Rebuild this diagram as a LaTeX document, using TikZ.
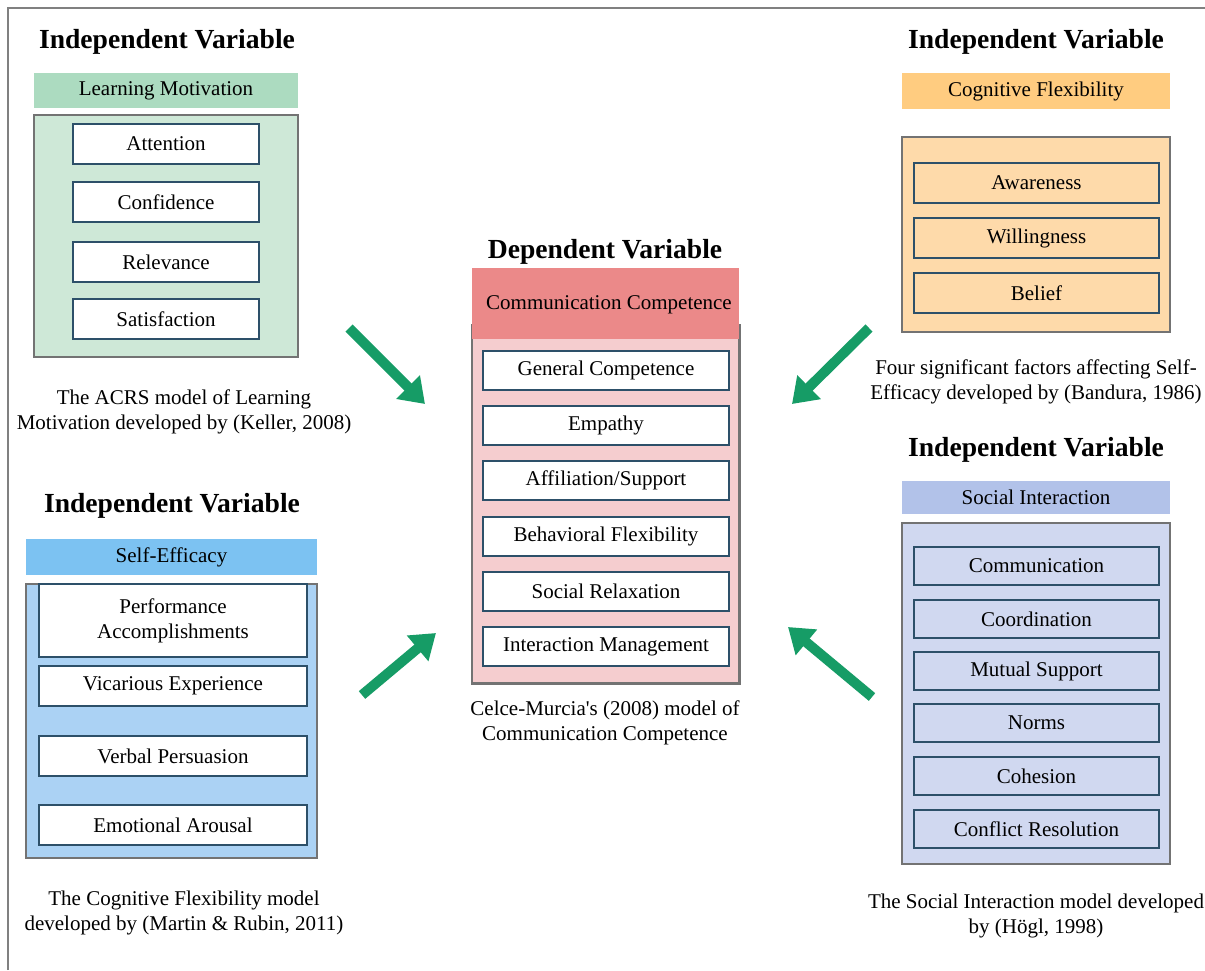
\documentclass[tikz,border=0pt]{standalone}
\usepackage{fontspec}
\setmainfont{Liberation Serif}
\usetikzlibrary{arrows.meta, positioning, fit}

\definecolor{framegray}{RGB}{128,128,128}
\definecolor{panelgray}{RGB}{115,115,115}
\definecolor{itemline}{RGB}{45,80,105}
\definecolor{arrowgreen}{RGB}{22,156,102}
\definecolor{lmbar}{RGB}{172,219,192}
\definecolor{lmfill}{RGB}{206,232,215}
\definecolor{cfbar}{RGB}{255,204,128}
\definecolor{cffill}{RGB}{254,218,170}
\definecolor{ccbar}{RGB}{235,137,137}
\definecolor{ccfill}{RGB}{245,205,207}
\definecolor{sebar}{RGB}{124,194,242}
\definecolor{sefill}{RGB}{171,210,244}
\definecolor{sibar}{RGB}{178,194,233}
\definecolor{sifill}{RGB}{208,216,240}

\begin{document}
\begin{tikzpicture}[
    x=0.5pt, y=-0.5pt,
    font=\fontsize{10.5}{12.5}\selectfont,
    head/.style={font=\fontsize{13.8}{16}\selectfont\bfseries},
    panel/.style={draw=panelgray, line width=0.75pt, inner sep=0pt},
    bar/.style={inner sep=0pt, minimum height=18pt},
    item/.style={draw=itemline, line width=0.7pt, inner sep=0pt, align=center,
                 minimum height=20pt},
    note/.style={align=center},
    flow/.style={draw=arrowgreen, line width=5pt,
                 -{Triangle[length=12pt, width=16pt]}},
  ]
  % page: pixel grid, y grows downwards
  \useasboundingbox (0,0) rectangle (1205,970);
  \draw[framegray, line width=0.8pt] (8,970) -- (8,8) -- (1205,8);

  % ---- learning motivation (top left)
  \node[head] (lmHead) at (167,42) {Independent Variable};
  \node[bar, fill=lmbar, minimum width=132pt, minimum height=17.5pt] (lmBar)
    at (166,90.5) {Learning Motivation};
  \node[panel, fill=lmfill, fit={(34,115) (298,357)}] (lmPanel) {};
  \foreach \t/\txt [count=\i] in {124/Attention, 182/Confidence,
                                  242/Relevance, 299/Satisfaction}
    \node[item, fill=white, minimum width=93pt] (lm\i) at (166,\t+20) {\txt};
  \node[note] (lmNote) at (184,412)
    {The ACRS model of Learning\\Motivation developed by (Keller, 2008)};

  % ---- cognitive flexibility (top right)
  \node[head] (cfHead) at (1036,42) {Independent Variable};
  \node[bar, fill=cfbar, minimum width=134pt] (cfBar) at (1036,91)
    {Cognitive Flexibility};
  \node[panel, fill=cffill, fit={(902,137) (1170,332)}] (cfPanel) {};
  \foreach \t/\txt [count=\i] in {163/Awareness, 218/Willingness, 273/Belief}
    \node[item, minimum width=122.5pt] (cf\i) at (1036.5,\t+20) {\txt};
  \node[note] (cfNote) at (1036,382)
    {Four significant factors affecting Self-\\Efficacy developed by (Bandura, 1986)};

  % ---- communication competence (centre)
  \node[head] (ccHead) at (605,252) {Dependent Variable};
  \node[panel, fill=ccfill, fit={(472,325) (739,683)}] (ccPanel) {};
  \node[bar, fill=ccbar, fit={(472,268) (739,339)}] (ccBar) {};
  % panel sides stay on top of the title bar
  \draw[panelgray, line width=0.75pt] (ccPanel.north west) -- (ccPanel.south west)
    -- (ccPanel.south east) -- (ccPanel.north east);
  \node (ccTitle) at (609,305) {Communication Competence};
  \foreach \t/\txt [count=\i] in {350/General Competence, 405/Empathy,
                                  460/{Affiliation/Support}, 516/Behavioral Flexibility,
                                  571/Social Relaxation, 626/Interaction Management}
    \node[item, fill=white, minimum width=123pt, minimum height=19.5pt]
      (cc\i) at (606,\t+20.5) {\txt};
  \node[note] (ccNote) at (605,723)
    {Celce-Murcia\textquotesingle s (2008) model of\\Communication Competence};

  % ---- self-efficacy (bottom left)
  \node[head] (seHead) at (172,506) {Independent Variable};
  \node[bar, fill=sebar, minimum width=145.5pt] (seBar) at (171.5,557)
    {Self-Efficacy};
  \node[panel, fill=sefill, fit={(26,584) (317,858)}] (sePanel) {};
  \node[item, fill=white, minimum width=134pt, minimum height=36.5pt] (se1)
    at (173,620.5) {Performance\\Accomplishments};
  \foreach \t/\txt [count=\i from 2] in {666/Vicarious Experience,
                                         736/Verbal Persuasion, 805/Emotional Arousal}
    \node[item, fill=white, minimum width=134pt] (se\i) at (173,\t+20) {\txt};
  \node[note] (seNote) at (184,913)
    {The Cognitive Flexibility model\\developed by (Martin \& Rubin, 2011)};

  % ---- social interaction (bottom right)
  \node[head] (siHead) at (1036,450) {Independent Variable};
  \node[bar, fill=sibar, minimum width=134pt, minimum height=16.5pt] (siBar)
    at (1036,497.5) {Social Interaction};
  \node[panel, fill=sifill, fit={(902,523) (1170,864)}] (siPanel) {};
  \foreach \t/\txt [count=\i] in {547/Communication, 600/Coordination,
                                  652/Mutual Support, 704/Norms,
                                  757/Cohesion, 810/Conflict Resolution}
    \node[item, minimum width=122.5pt, minimum height=19pt] (si\i)
      at (1036.5,\t+19) {\txt};
  \node[note] (siNote) at (1036,916)
    {The Social Interaction model developed\\by (Högl, 1998)};

  % influence arrows towards the dependent variable
  \coordinate (lmFrom) at (349,328);  \coordinate (lmTo) at (425,404);
  \coordinate (cfFrom) at (869,328);  \coordinate (cfTo) at (792,404);
  \coordinate (seFrom) at (362,695);  \coordinate (seTo) at (436,633);
  \coordinate (siFrom) at (872,697);  \coordinate (siTo) at (788,627);
  \foreach \g in {lm,cf,se,si}
    \draw[flow] (\g From) -- (\g To);
\end{tikzpicture}
\end{document}
